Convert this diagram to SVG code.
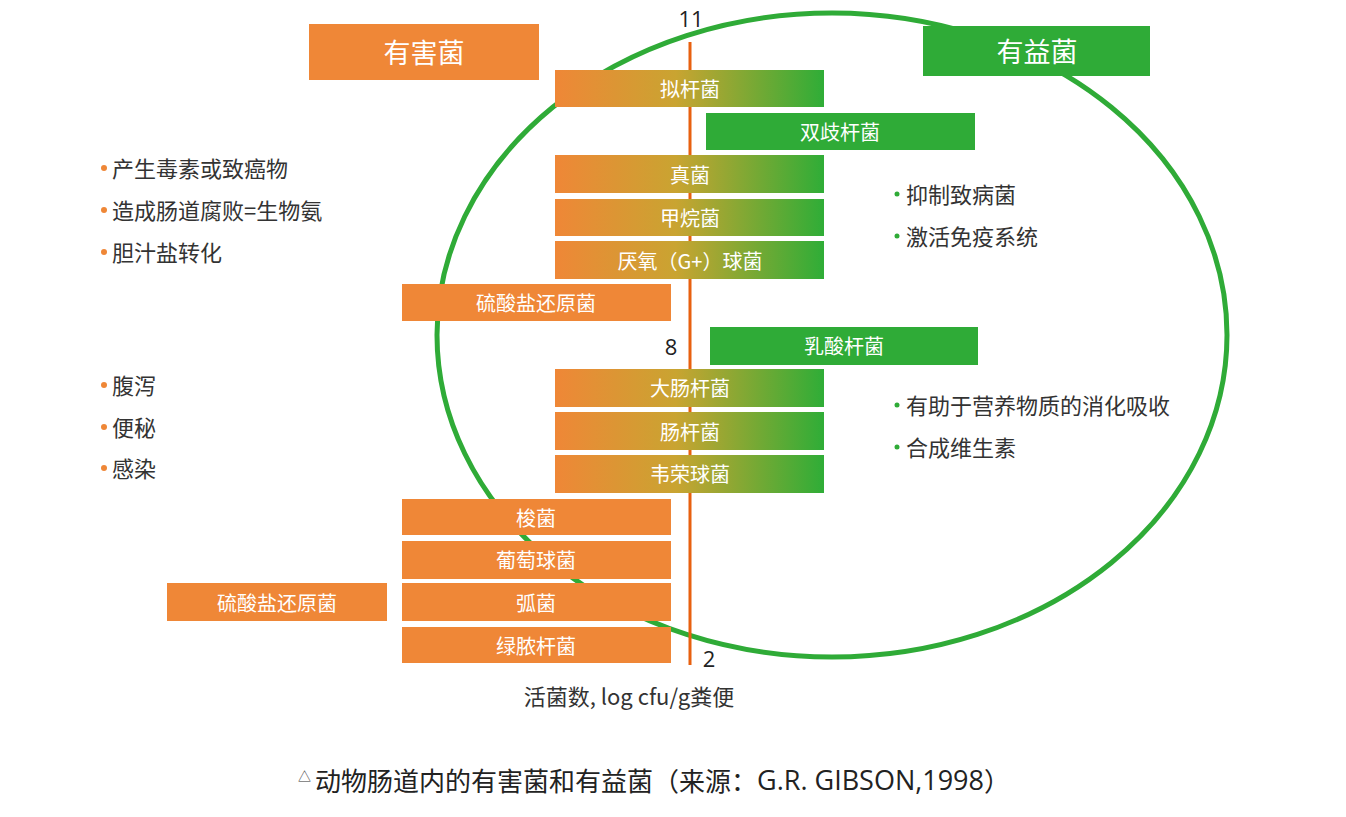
<svg xmlns="http://www.w3.org/2000/svg" width="1346" height="817" viewBox="0 0 1346 817">
<defs>
<linearGradient id="g" x1="0" y1="0" x2="1" y2="0">
<stop offset="0" stop-color="#ef8737"/>
<stop offset="0.45" stop-color="#c9a431"/>
<stop offset="1" stop-color="#2fad37"/>
</linearGradient>
</defs>
<style>
text{font-family:"Noto Sans CJK SC","Noto Sans",sans-serif}
.o{fill:#ef8737}
.gr{fill:#2fab37}
.gd{fill:url(#g)}
.lb{fill:#fff;font-size:20px;text-anchor:middle;dominant-baseline:central}
.hd{fill:#fff;font-size:27px;text-anchor:middle;dominant-baseline:central}
.tx{fill:#333;font-size:22px;dominant-baseline:central}
.num{fill:#222;font-size:22px;font-family:"Open Sans","Noto Sans",sans-serif}
.od{fill:#ef8737}
.gdot{fill:#2fab37}
</style>
<rect width="1346" height="817" fill="#fff"/>
<g id="connectors">
<ellipse cx="832" cy="335" rx="395" ry="322" fill="none" stroke="#2fab37" stroke-width="5"/>
<line x1="690" y1="42" x2="690" y2="665" stroke="#e8600f" stroke-width="3"/>
</g>
<g id="axis-labels">
<text class="num" x="691" y="27" text-anchor="middle">11</text>
<text class="num" x="671" y="355" text-anchor="middle">8</text>
<text class="num" x="709" y="667" text-anchor="middle">2</text>
<text class="tx" x="629" y="695" text-anchor="middle">活菌数, log cfu/g粪便</text>
</g>
<g id="harmful-header"><rect class="o" x="309" y="24" width="230" height="56"/><text class="hd" x="424" y="51">有害菌</text></g>
<g id="beneficial-header"><rect class="gr" x="923" y="26" width="227" height="50"/><text class="hd" x="1037" y="50">有益菌</text></g>
<g id="n-nigan"><rect class="gd" x="555" y="70" width="269" height="37"/><text class="lb" x="690" y="88">拟杆菌</text></g>
<g id="n-shuangqi"><rect class="gr" x="706" y="113" width="269" height="37"/><text class="lb" x="840" y="131">双歧杆菌</text></g>
<g id="n-zhenjun"><rect class="gd" x="555" y="155" width="269" height="38"/><text class="lb" x="690" y="174">真菌</text></g>
<g id="n-jiawan"><rect class="gd" x="555" y="199" width="269" height="37"/><text class="lb" x="690" y="217">甲烷菌</text></g>
<g id="n-yanyang"><rect class="gd" x="555" y="241" width="269" height="38"/><text class="lb" x="690" y="260">厌氧（G+）球菌</text></g>
<g id="n-liusuan1"><rect class="o" x="402" y="284" width="269" height="37"/><text class="lb" x="536" y="302">硫酸盐还原菌</text></g>
<g id="n-rusuan"><rect class="gr" x="710" y="327" width="268" height="38"/><text class="lb" x="844" y="345">乳酸杆菌</text></g>
<g id="n-dachang"><rect class="gd" x="555" y="369" width="269" height="38"/><text class="lb" x="690" y="387">大肠杆菌</text></g>
<g id="n-chang"><rect class="gd" x="555" y="412" width="269" height="38"/><text class="lb" x="690" y="431">肠杆菌</text></g>
<g id="n-weirong"><rect class="gd" x="555" y="455" width="269" height="38"/><text class="lb" x="690" y="473">韦荣球菌</text></g>
<g id="n-suo"><rect class="o" x="402" y="499" width="269" height="36"/><text class="lb" x="536" y="517">梭菌</text></g>
<g id="n-putao"><rect class="o" x="402" y="541" width="269" height="38"/><text class="lb" x="536" y="559">葡萄球菌</text></g>
<g id="n-hu"><rect class="o" x="402" y="583" width="269" height="38"/><text class="lb" x="536" y="602">弧菌</text></g>
<g id="n-lvnong"><rect class="o" x="402" y="627" width="269" height="36"/><text class="lb" x="536" y="645">绿脓杆菌</text></g>
<g id="n-liusuan2"><rect class="o" x="167" y="583" width="220" height="38"/><text class="lb" x="277" y="602">硫酸盐还原菌</text></g>
<g id="harm-list1">
<circle class="od" cx="104" cy="168" r="3"/><text class="tx" x="112" y="167">产生毒素或致癌物</text>
<circle class="od" cx="104" cy="210" r="3"/><text class="tx" x="112" y="209">造成肠道腐败=生物氨</text>
<circle class="od" cx="104" cy="252" r="3"/><text class="tx" x="112" y="251">胆汁盐转化</text>
</g>
<g id="harm-list2">
<circle class="od" cx="104" cy="385" r="3"/><text class="tx" x="112" y="384">腹泻</text>
<circle class="od" cx="104" cy="427" r="3"/><text class="tx" x="112" y="426">便秘</text>
<circle class="od" cx="104" cy="468" r="3"/><text class="tx" x="112" y="467">感染</text>
</g>
<g id="benefit-list1">
<circle class="gdot" cx="897" cy="194" r="2.5"/><text class="tx" x="906" y="193">抑制致病菌</text>
<circle class="gdot" cx="897" cy="236" r="2.5"/><text class="tx" x="906" y="235">激活免疫系统</text>
</g>
<g id="benefit-list2">
<circle class="gdot" cx="897" cy="405" r="2.5"/><text class="tx" x="906" y="404">有助于营养物质的消化吸收</text>
<circle class="gdot" cx="897" cy="447" r="2.5"/><text class="tx" x="906" y="446">合成维生素</text>
</g>
<g id="caption">
<text x="298" y="781" style="font-size:13px;fill:#333">△</text>
<text x="315" y="779" style="font-size:26px;fill:#222;dominant-baseline:central">动物肠道内的有害菌和有益菌（来源：<tspan style="font-family:'Open Sans',sans-serif;font-size:27px">G.R. GIBSON,1998</tspan>）</text>
</g>
</svg>
